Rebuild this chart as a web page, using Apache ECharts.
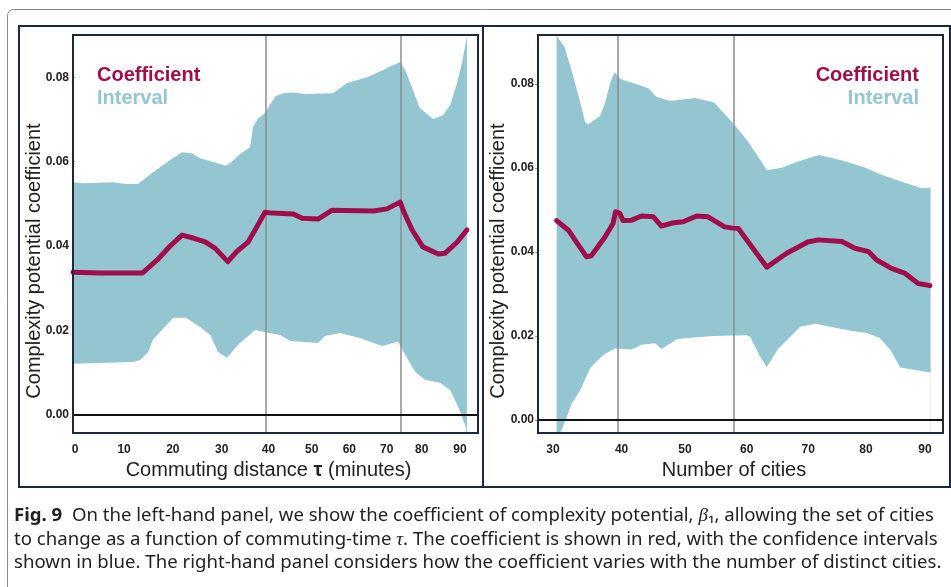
<!DOCTYPE html>
<html><head><meta charset="utf-8">
<script src="https://cdn.jsdelivr.net/npm/echarts@6/dist/echarts.min.js"></script>
<style>html,body{margin:0;padding:0;background:#fff;}#c{width:951px;height:587px;}</style>
</head><body><div id="c"></div>
<script>
// ---------- DATA ----------
// x values are positions along each panel's axis (label "first" .. "last" spaced linearly);
// the original tick labels are not evenly spaced, so their positions are listed.
const yTickValues = [0, 0.02, 0.04, 0.06, 0.08];

// Left panel: commuting distance tau
const leftTickPos = [0, 11.45, 22.84, 34.29, 45.19, 55.33, 64.12, 72.86, 81.04, 90];
const leftTickLabels = ['0', '10', '20', '30', '40', '50', '60', '70', '80', '90'];
const leftRefLines = [44.5, 76.2];
const leftCoef = [[-0.5,0.0338],[5.8,0.0336],[15.7,0.0336],[19.2,0.0367],[22.2,0.0400],[25.0,0.0426],[27.6,0.0419],[30.4,0.0410],[32.7,0.0395],[35.7,0.0363],[37.8,0.0387],[40.5,0.0410],[42.5,0.0446],[44.4,0.0480],[46.0,0.0478],[51.0,0.0476],[53.1,0.0466],[56.8,0.0464],[60.1,0.0485],[69.7,0.0483],[72.9,0.0488],[76.0,0.0504],[76.9,0.0480],[78.8,0.0438],[81.3,0.0398],[84.9,0.0381],[86.5,0.0383],[89.3,0.0409],[91.6,0.0438]];
const leftUpper = [[-0.5,0.0551],[1.9,0.0549],[8.9,0.0551],[11.7,0.0547],[14.7,0.0547],[18.0,0.0573],[22.2,0.0604],[25.0,0.0622],[27.3,0.0620],[29.2,0.0608],[32.3,0.0599],[35.1,0.0590],[36.2,0.0596],[38.6,0.0618],[40.9,0.0634],[41.6,0.0682],[42.8,0.0703],[44.4,0.0715],[46.8,0.0755],[48.6,0.0762],[51.0,0.0764],[53.8,0.0760],[60.3,0.0762],[63.6,0.0786],[68.3,0.0800],[72.9,0.0821],[76.0,0.0836],[77.4,0.0812],[79.0,0.0769],[80.6,0.0727],[83.7,0.0701],[86.0,0.0710],[87.7,0.0734],[89.3,0.0786],[90.5,0.0836],[91.6,0.0897]];
const leftLower = [[-0.5,0.0121],[13.6,0.0125],[15.2,0.0130],[17.1,0.0149],[18.2,0.0178],[22.9,0.0230],[25.9,0.0230],[29.2,0.0208],[31.6,0.0189],[33.4,0.0149],[35.5,0.0135],[38.1,0.0166],[42.1,0.0201],[44.4,0.0196],[47.9,0.0189],[50.3,0.0175],[56.8,0.0170],[58.4,0.0187],[61.9,0.0194],[66.6,0.0182],[71.8,0.0163],[75.5,0.0173],[77.6,0.0135],[79.5,0.0102],[81.8,0.0083],[85.3,0.0076],[87.7,0.0059],[90.0,0.0009],[91.4,-0.0031]];

// Right panel: number of cities
const rightTickPos = [30, 41.08, 51.29, 61.24, 71.18, 80.48, 90];
const rightTickLabels = ['30', '40', '50', '60', '70', '80', '90'];
const rightRefLines = [40.5, 59.1];
const rightCoef = [[30.6,0.0475],[32.5,0.0452],[34.1,0.0417],[35.4,0.0389],[36.2,0.0391],[38.4,0.0436],[39.7,0.0468],[40.1,0.0496],[40.8,0.0492],[41.3,0.0475],[42.7,0.0476],[44.3,0.0486],[46.2,0.0484],[47.5,0.0462],[49.2,0.0469],[51.0,0.0472],[53.2,0.0486],[55.0,0.0484],[57.7,0.0460],[59.0,0.0457],[59.9,0.0456],[64.5,0.0364],[67.7,0.0397],[71.1,0.0424],[72.8,0.0429],[76.6,0.0425],[78.7,0.0409],[80.9,0.0401],[82.2,0.0381],[84.6,0.0361],[86.8,0.0349],[88.9,0.0325],[90.8,0.0320]];
const rightUpper = [[30.6,0.0915],[31.9,0.0888],[33.0,0.0833],[34.1,0.0774],[35.2,0.0710],[35.7,0.0704],[36.5,0.0713],[37.6,0.0724],[38.4,0.0754],[39.2,0.0802],[40.0,0.0829],[40.5,0.0817],[41.3,0.0810],[43.4,0.0800],[45.4,0.0790],[46.7,0.0770],[48.9,0.0760],[52.9,0.0767],[56.0,0.0756],[59.1,0.0706],[61.5,0.0663],[64.5,0.0595],[66.9,0.0601],[69.4,0.0615],[72.9,0.0631],[76.3,0.0619],[80.0,0.0603],[82.7,0.0586],[86.1,0.0568],[89.5,0.0552],[90.9,0.0554]];
const rightLower = [[30.6,-0.0040],[31.4,-0.0024],[32.2,0.0005],[33.0,0.0038],[34.4,0.0071],[36.0,0.0124],[38.1,0.0155],[40.0,0.0170],[42.7,0.0168],[44.3,0.0179],[46.5,0.0183],[47.5,0.0169],[50.0,0.0193],[53.2,0.0197],[55.9,0.0200],[61.2,0.0202],[61.8,0.0198],[63.4,0.0151],[64.5,0.0126],[66.3,0.0169],[69.9,0.0222],[72.3,0.0229],[74.7,0.0222],[78.2,0.0212],[80.6,0.0207],[82.7,0.0195],[84.4,0.0167],[86.0,0.0125],[88.9,0.0118],[90.9,0.0113]];

// ---------- STYLE ----------
const TEAL = '#94c6d1';
const RED = '#a10d4b';
const NAVY = '#1b2840';
const FONT = '"Liberation Sans", Arial, sans-serif';

const chart = echarts.init(document.getElementById('c'), null, {renderer: 'canvas'});

function xAxisCfg(gridIndex, min, max, pos, labels) {
  return {
    type: 'value', gridIndex, min, max,
    axisLine: {show: false}, splitLine: {show: false},
    axisTick: {show: false},
    axisLabel: {
      customValues: pos,
      formatter: v => { const i = pos.findIndex(p => Math.abs(p - v) < 1e-6); return i >= 0 ? labels[i] : ''; },
      fontFamily: FONT, fontWeight: 'bold', fontSize: 12, color: '#222', margin: 11
    }
  };
}
function yAxisCfg(gridIndex, min, max) {
  return {
    type: 'value', gridIndex, min, max,
    axisLine: {show: false}, splitLine: {show: false},
    axisTick: {show: true, customValues: yTickValues, length: 3, lineStyle: {color: '#999'}},
    axisLabel: {
      customValues: yTickValues, formatter: v => v.toFixed(2),
      fontFamily: FONT, fontWeight: 'bold', fontSize: 12, color: '#222', margin: 4
    }
  };
}
function bandSeries(i, upper, lower) {
  return [
    {name: 'Interval', type: 'line', xAxisIndex: i, yAxisIndex: i, data: upper, symbol: 'none',
     lineStyle: {width: 0}, areaStyle: {color: TEAL, opacity: 1, origin: 'start'}, z: 2, silent: true, animation: false},
    {name: 'Interval', type: 'line', xAxisIndex: i, yAxisIndex: i, data: lower, symbol: 'none',
     lineStyle: {width: 0}, areaStyle: {color: '#ffffff', opacity: 1, origin: 'start'}, z: 3, silent: true, animation: false}
  ];
}
function refSeries(i, xs) {
  return {
    name: 'ref' + i, type: 'line', xAxisIndex: i, yAxisIndex: i, data: [], z: 4, silent: true, animation: false,
    markLine: {
      symbol: 'none', silent: true, animation: false, label: {show: false},
      data: xs.map(x => ({xAxis: x, lineStyle: {color: '#8c8c8c', width: 1.5, type: 'solid'}}))
        .concat([{yAxis: 0, lineStyle: {color: '#111', width: 2, type: 'solid'}}])
    }
  };
}
function coefSeries(i, data) {
  return {name: 'Coefficient', type: 'line', xAxisIndex: i, yAxisIndex: i, data, symbol: 'none',
    lineStyle: {color: RED, width: 5, cap: 'round', join: 'round'}, itemStyle: {color: RED}, z: 6, animation: false};
}
function legendCfg(pos) {
  return Object.assign({
    orient: 'vertical', top: 59, itemGap: 0, itemWidth: 0, itemHeight: 0, selectedMode: false,
    textStyle: {fontFamily: FONT, fontWeight: 'bold', fontSize: 20, lineHeight: 23},
    data: [{name: 'Coefficient', textStyle: {color: RED}}, {name: 'Interval', textStyle: {color: TEAL}}]
  }, pos);
}

const caption = [
  '{b|Fig. 9}  On the left-hand panel, we show the coefficient of complexity potential, {i|β}₁, allowing the set of cities',
  'to change as a function of commuting-time {i|τ}. The coefficient is shown in red, with the confidence intervals',
  'shown in blue. The right-hand panel considers how the coefficient varies with the number of distinct cities.'
];
const CAPFONT = '"Noto Sans", sans-serif';
const CAPSIZE = 18.6;
const capRich = {
  b: {fontFamily: CAPFONT, fontWeight: 'bold', fontSize: CAPSIZE, fill: '#222'},
  i: {fontFamily: 'serif', fontStyle: 'italic', fontSize: CAPSIZE + 0.5, fill: '#222'}
};

chart.setOption({
  backgroundColor: '#fff',
  animation: false,
  grid: [
    {left: 73, top: 35, width: 405, height: 398, show: true, borderColor: NAVY, borderWidth: 2, backgroundColor: 'transparent', z: 10},
    {left: 538, top: 35, width: 405, height: 398, show: true, borderColor: NAVY, borderWidth: 2, backgroundColor: 'transparent', z: 10}
  ],
  xAxis: [
    xAxisCfg(0, -0.5, 94.2, leftTickPos, leftTickLabels),
    xAxisCfg(1, 27.6, 92.9, rightTickPos, rightTickLabels)
  ],
  yAxis: [
    yAxisCfg(0, -0.0043, 0.09),
    yAxisCfg(1, -0.0031, 0.0917)
  ],
  legend: [
    legendCfg({left: 86}),
    legendCfg({right: 21, align: 'right'})
  ],
  series: [
    ...bandSeries(0, leftUpper, leftLower), refSeries(0, leftRefLines), coefSeries(0, leftCoef),
    ...bandSeries(1, rightUpper, rightLower), refSeries(1, rightRefLines), coefSeries(1, rightCoef)
  ],
  graphic: [
    {type: 'rect', shape: {x: 7.5, y: 9.5, width: 1000, height: 700, r: 6}, style: {fill: 'none', stroke: '#8a8a8a', lineWidth: 1}, silent: true},
    {type: 'rect', shape: {x: 19, y: 26, width: 931, height: 461}, style: {fill: 'none', stroke: NAVY, lineWidth: 2}, silent: true},
    {type: 'line', shape: {x1: 483, y1: 26, x2: 483, y2: 487}, style: {stroke: NAVY, lineWidth: 2}, silent: true},
    {type: 'text', x: 34.5, y: 261, rotation: Math.PI / 2, style: {text: 'Complexity potential coefficient', fontFamily: FONT, fontSize: 20, fill: '#222', align: 'center', verticalAlign: 'middle'}},
    {type: 'text', x: 498.5, y: 261, rotation: Math.PI / 2, style: {text: 'Complexity potential coefficient', fontFamily: FONT, fontSize: 20, fill: '#222', align: 'center', verticalAlign: 'middle'}},
    {type: 'text', x: 268.5, y: 470, style: {text: 'Commuting distance {t|τ} (minutes)', fontFamily: FONT, fontSize: 20, fill: '#222', align: 'center', verticalAlign: 'middle',
      rich: {t: {fontFamily: FONT, fontSize: 20, fontWeight: 'bold', fill: '#222'}}}},
    {type: 'text', x: 734, y: 470, style: {text: 'Number of cities', fontFamily: FONT, fontSize: 20, fill: '#222', align: 'center', verticalAlign: 'middle'}},
    ...caption.map((t, k) => ({type: 'text', x: 14, y: 516 + k * 23.5, style: {text: t, fontFamily: CAPFONT, fontSize: CAPSIZE, fill: '#222', align: 'left', verticalAlign: 'middle', rich: capRich}}))
  ]
});
</script></body></html>
